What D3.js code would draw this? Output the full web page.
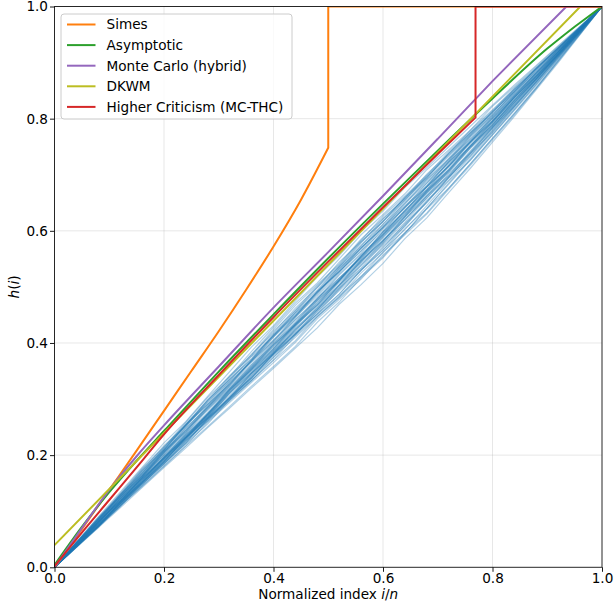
<!DOCTYPE html>
<html>
<head>
<meta charset="utf-8">
<script src="https://cdn.jsdelivr.net/npm/d3@7"></script>
<style>
  body { margin: 0; background: #fff; }
  svg { font-family: "DejaVu Sans", sans-serif; }
</style>
</head>
<body>
<div id="chart-area"></div>
<script>
// sample paths: h(i) vs i/n, read at these x positions
const sampleX = [0, 0.04, 0.08, 0.12, 0.16, 0.20, 0.24, 0.28, 0.32, 0.36, 0.40, 0.44, 0.48,
  0.52, 0.56, 0.60, 0.64, 0.68, 0.72, 0.76, 0.80, 0.84, 0.88, 0.92, 0.96, 1.00];

const samplePaths = [
  [0,.037,.074,.116,.151,.188,.230,.265,.302,.346,.380,.416,.459,.503,.538,.581,.625,.662,.707,.750,.788,.832,.875,.914,.957,1],
  [0,.044,.086,.130,.168,.213,.256,.292,.337,.380,.418,.462,.499,.544,.581,.617,.660,.696,.733,.775,.810,.852,.888,.925,.963,1],
  [0,.038,.082,.119,.155,.197,.232,.274,.318,.355,.391,.434,.469,.512,.556,.593,.637,.674,.718,.761,.797,.840,.882,.919,.961,1],
  [0,.042,.077,.113,.156,.191,.227,.269,.304,.339,.374,.417,.451,.487,.530,.565,.609,.652,.696,.734,.779,.823,.866,.910,.955,1],
  [0,.045,.083,.128,.172,.209,.254,.298,.335,.371,.414,.449,.492,.527,.564,.608,.645,.681,.724,.767,.803,.846,.882,.924,.961,1],
  [0,.036,.079,.123,.160,.205,.242,.287,.324,.369,.413,.450,.486,.530,.574,.611,.655,.692,.729,.772,.808,.845,.887,.923,.962,1],
  [0,.037,.072,.114,.149,.185,.221,.264,.298,.333,.369,.404,.447,.481,.518,.562,.596,.640,.685,.729,.774,.818,.863,.909,.954,1],
  [0,.043,.087,.125,.169,.206,.242,.285,.321,.357,.400,.436,.479,.523,.560,.604,.641,.678,.715,.758,.794,.837,.875,.918,.959,1],
  [0,.039,.076,.112,.155,.190,.233,.268,.311,.347,.390,.434,.471,.515,.552,.588,.631,.667,.710,.753,.790,.834,.873,.916,.958,1],
  [0,.044,.088,.132,.176,.214,.259,.303,.340,.385,.428,.471,.507,.550,.593,.629,.666,.709,.744,.780,.822,.857,.893,.929,.964,1],
  [0,.038,.081,.117,.160,.196,.239,.283,.326,.362,.405,.441,.477,.521,.558,.594,.637,.673,.716,.759,.796,.839,.877,.920,.959,1],
  [0,.035,.071,.113,.148,.184,.220,.256,.299,.334,.370,.413,.448,.484,.519,.554,.597,.632,.676,.720,.765,.810,.856,.904,.952,1],
  [0,.043,.080,.124,.161,.205,.249,.286,.330,.367,.403,.447,.491,.528,.564,.600,.643,.679,.722,.758,.801,.837,.880,.918,.960,1],
  [0,.039,.075,.117,.153,.196,.231,.267,.310,.346,.382,.425,.461,.504,.548,.584,.620,.663,.699,.743,.786,.825,.869,.913,.956,1],
  [0,.042,.085,.121,.164,.208,.245,.289,.333,.376,.412,.455,.499,.536,.573,.617,.654,.698,.735,.771,.813,.849,.890,.926,.963,1],
  [0,.037,.079,.114,.151,.194,.229,.272,.307,.343,.386,.421,.464,.508,.544,.589,.626,.671,.708,.752,.789,.833,.872,.915,.957,1],
  [0,.041,.078,.122,.166,.203,.240,.276,.319,.355,.398,.442,.479,.515,.551,.594,.630,.673,.709,.752,.795,.833,.876,.915,.958,1],
  [0,.044,.082,.126,.163,.208,.251,.295,.332,.368,.411,.447,.483,.526,.569,.605,.648,.691,.727,.770,.806,.849,.885,.923,.962,1],
  [0,.038,.074,.110,.152,.188,.231,.266,.302,.338,.381,.416,.452,.495,.539,.575,.611,.654,.690,.733,.777,.821,.865,.911,.955,1],
  [0,.043,.079,.122,.158,.201,.245,.282,.318,.361,.397,.433,.476,.512,.555,.598,.642,.679,.723,.760,.804,.841,.882,.920,.961,1],
  [0,.039,.082,.126,.163,.207,.244,.280,.323,.359,.402,.445,.489,.532,.568,.612,.649,.685,.728,.764,.801,.843,.880,.921,.960,1],
  [0,.036,.073,.109,.146,.189,.225,.261,.304,.340,.383,.419,.455,.498,.534,.577,.621,.658,.702,.739,.783,.827,.870,.913,.956,1],
  [0,.042,.086,.129,.173,.210,.254,.291,.327,.370,.414,.458,.502,.539,.583,.626,.662,.699,.741,.777,.814,.855,.891,.927,.963,1],
  [0,.038,.081,.118,.162,.199,.235,.271,.314,.358,.394,.437,.480,.516,.553,.597,.634,.678,.715,.751,.794,.837,.876,.918,.959,1],
  [0,.041,.084,.120,.157,.193,.235,.271,.314,.350,.386,.429,.473,.510,.547,.583,.626,.669,.705,.748,.791,.829,.872,.916,.958,1],
  [0,.037,.073,.116,.152,.187,.223,.266,.301,.337,.380,.416,.452,.487,.530,.566,.602,.645,.689,.726,.771,.816,.861,.907,.953,1],
  [0,.043,.081,.118,.161,.204,.248,.285,.329,.366,.410,.454,.491,.527,.570,.606,.642,.685,.721,.764,.800,.843,.881,.922,.960,1],
  [0,.039,.077,.121,.158,.194,.237,.273,.316,.352,.395,.431,.467,.511,.554,.598,.635,.679,.716,.760,.797,.840,.878,.919,.960,1],
  [0,.042,.079,.115,.158,.194,.230,.273,.317,.353,.389,.432,.468,.511,.555,.591,.634,.670,.714,.757,.794,.838,.876,.918,.959,1],
  [0,.045,.089,.127,.171,.215,.252,.296,.340,.377,.421,.458,.494,.537,.580,.616,.659,.695,.738,.774,.811,.853,.889,.926,.962,1],
  [0,.036,.071,.106,.142,.178,.213,.249,.284,.320,.355,.391,.427,.469,.504,.542,.586,.623,.668,.712,.758,.804,.852,.900,.950,1],
  [0,.038,.073,.110,.145,.181,.217,.259,.294,.330,.365,.401,.443,.478,.514,.557,.593,.630,.674,.717,.762,.807,.854,.903,.951,1],
  [0,.045,.090,.134,.178,.222,.260,.305,.349,.393,.431,.475,.518,.556,.599,.635,.677,.713,.750,.787,.824,.860,.895,.930,.965,1],
  [0,.037,.075,.111,.148,.184,.226,.261,.297,.333,.375,.410,.446,.482,.525,.561,.604,.640,.683,.727,.771,.815,.860,.906,.953,1],
  [0,.041,.077,.113,.150,.192,.227,.263,.299,.342,.378,.414,.457,.493,.529,.572,.608,.651,.695,.738,.776,.821,.865,.909,.955,1],
  [0,.038,.074,.116,.152,.189,.231,.267,.303,.346,.382,.424,.460,.496,.532,.569,.613,.650,.694,.737,.780,.824,.868,.912,.956,1],
  [0,.043,.086,.124,.168,.211,.255,.299,.342,.379,.424,.467,.504,.541,.585,.622,.658,.701,.737,.780,.816,.852,.889,.926,.963,1],
  [0,.039,.082,.118,.154,.197,.233,.269,.312,.348,.384,.427,.463,.499,.542,.578,.615,.659,.696,.740,.783,.822,.866,.911,.955,1],
  [0,.037,.073,.109,.144,.180,.216,.251,.287,.323,.358,.394,.437,.473,.516,.552,.595,.639,.676,.720,.765,.809,.855,.902,.951,1],
  [0,.042,.085,.129,.166,.210,.253,.290,.326,.369,.405,.448,.492,.535,.578,.621,.657,.694,.738,.775,.812,.848,.890,.926,.963,1],
  [0,.038,.075,.117,.159,.195,.232,.275,.311,.354,.397,.433,.476,.512,.549,.592,.628,.671,.707,.750,.787,.831,.870,.914,.957,1],
  [0,.041,.084,.127,.164,.200,.237,.273,.316,.352,.388,.431,.467,.503,.546,.582,.619,.662,.698,.741,.784,.828,.871,.915,.958,1],
  [0,.036,.072,.108,.150,.186,.222,.265,.301,.337,.380,.423,.459,.502,.545,.581,.624,.667,.704,.748,.785,.829,.872,.914,.957,1],
  [0,.043,.087,.130,.174,.217,.254,.298,.335,.372,.416,.453,.489,.533,.570,.607,.651,.688,.725,.769,.806,.848,.884,.922,.961,1]
];

// bound curves
const simesX = [0, 0.05, 0.1, 0.15, 0.2, 0.25, 0.3, 0.35, 0.4, 0.45, 0.5, 0.5, 1];
const simesY = [0, 0.068, 0.138, 0.208, 0.279, 0.350, 0.421, 0.495, 0.572, 0.655, 0.748, 1, 1];

const asymX = [0, 0.05, 0.1, 0.15, 0.2, 0.3, 0.4, 0.5, 0.6, 0.7, 0.8, 0.9, 0.95, 1];
const asymY = [0.004, 0.072, 0.134, 0.19, 0.243, 0.349, 0.451, 0.551, 0.648, 0.743, 0.836, 0.925, 0.964, 1];

const mcX = [0, 0.05, 0.1, 0.15, 0.2, 0.3, 0.4, 0.5, 0.6, 0.7, 0.8, 0.935, 1];
const mcY = [0, 0.07, 0.138, 0.198, 0.253, 0.358, 0.463, 0.562, 0.662, 0.764, 0.867, 1, 1];

const dkwmX = [0, 0.9605, 1];
const dkwmY = [0.0395, 1, 1];

const hcX = [0, 0.05, 0.1, 0.15, 0.2, 0.3, 0.4, 0.5, 0.6, 0.7, 0.769, 0.769, 1];
const hcY = [0.002, 0.062, 0.12, 0.178, 0.237, 0.343, 0.446, 0.545, 0.642, 0.737, 0.802, 1, 1];

const seriesNames = ['Simes', 'Asymptotic', 'Monte Carlo (hybrid)', 'DKWM', 'Higher Criticism (MC-THC)'];
const seriesColors = ['#ff7f0e', '#2ca02c', '#9467bd', '#bcbd22', '#d62728'];
const tickValues = [0, 0.2, 0.4, 0.6, 0.8, 1.0];

const drawChart = () => {
  const chartSize = { width: 615, height: 605 };
  const margin = { left: 54.5, right: 13, top: 6.5, bottom: 37.7 };
  const width = chartSize.width - margin.left - margin.right;
  const height = chartSize.height - margin.top - margin.bottom;

  const svg = d3.select('#chart-area').append('svg')
    .attr('width', chartSize.width)
    .attr('height', chartSize.height);

  const x = d3.scaleLinear().domain([0, 1]).range([0, width]);
  const y = d3.scaleLinear().domain([0, 1]).range([height, 0]);

  const g = svg.append('g')
    .attr('transform', `translate(${margin.left},${margin.top})`);

  g.append('clipPath').attr('id', 'plot-clip')
    .append('rect').attr('width', width).attr('height', height);

  // grid
  g.append('g').selectAll('line')
    .data(tickValues.slice(1, -1))
    .enter().append('line')
    .attr('x1', d => x(d)).attr('x2', d => x(d))
    .attr('y1', 0).attr('y2', height)
    .attr('stroke', '#b0b0b0').attr('stroke-opacity', 0.3).attr('stroke-width', 1);
  g.append('g').selectAll('line')
    .data(tickValues.slice(1, -1))
    .enter().append('line')
    .attr('y1', d => y(d)).attr('y2', d => y(d))
    .attr('x1', 0).attr('x2', width)
    .attr('stroke', '#b0b0b0').attr('stroke-opacity', 0.3).attr('stroke-width', 1);

  const plot = g.append('g').attr('clip-path', 'url(#plot-clip)');

  const line = d3.line().x(d => x(d[0])).y(d => y(d[1]));
  const smooth = d3.line().x(d => x(d[0])).y(d => y(d[1])).curve(d3.curveMonotoneX);

  plot.selectAll('path.sample')
    .data(samplePaths)
    .enter().append('path')
    .attr('class', 'sample')
    .attr('d', p => line(p.map((v, i) => [sampleX[i], v])))
    .attr('fill', 'none')
    .attr('stroke', '#1f77b4')
    .attr('stroke-opacity', 0.35)
    .attr('stroke-width', 1.2);

  // smooth up to the point where the bound hits 1, straight after that
  const boundPath = (xs, ys) => {
    const pts = xs.map((v, i) => [v, ys[i]]);
    let k = pts.findIndex(p => p[1] >= 1);
    if (k < 0) k = pts.length;
    const head = pts.slice(0, k);
    const tail = pts.slice(k);
    let d = head.length > 2 ? smooth(head) : line(head);
    tail.forEach(p => { d += `L${x(p[0])},${y(p[1])}`; });
    return d;
  };

  const curves = [
    [simesX, simesY], [asymX, asymY], [mcX, mcY], [dkwmX, dkwmY], [hcX, hcY]
  ];
  plot.selectAll('path.bound')
    .data(curves)
    .enter().append('path')
    .attr('class', 'bound')
    .attr('d', c => boundPath(c[0], c[1]))
    .attr('fill', 'none')
    .attr('stroke', (c, i) => seriesColors[i])
    .attr('stroke-width', 2)
    .attr('stroke-linejoin', 'round');

  // axes
  const xAxis = d3.axisBottom(x).tickValues(tickValues).tickFormat(d3.format('.1f'))
    .tickSize(4.5).tickPadding(2);
  const yAxis = d3.axisLeft(y).tickValues(tickValues).tickFormat(d3.format('.1f'))
    .tickSize(4.5).tickPadding(2);

  const xg = g.append('g')
    .attr('transform', `translate(0,${height})`)
    .call(xAxis);
  const yg = g.append('g').call(yAxis);
  [xg, yg].forEach(a => {
    a.select('.domain').remove();
    a.selectAll('text').attr('font-size', 13.6).attr('fill', '#000')
      .attr('font-family', '"DejaVu Sans", sans-serif');
    a.selectAll('line').attr('stroke', '#000').attr('stroke-width', 0.9);
  });

  // spines
  g.append('rect')
    .attr('width', width).attr('height', height)
    .attr('fill', 'none')
    .attr('stroke', '#000').attr('stroke-opacity', 0.85).attr('stroke-width', 1);

  g.append('text')
    .attr('x', width / 2)
    .attr('y', height + 31.5)
    .attr('text-anchor', 'middle')
    .attr('font-size', 13.6)
    .html('Normalized index <tspan font-style="italic">i</tspan>/<tspan font-style="italic">n</tspan>');

  g.append('text')
    .attr('transform', `translate(${19 - margin.left},${height / 2}) rotate(-90)`)
    .attr('text-anchor', 'middle')
    .attr('font-size', 13.6)
    .html('<tspan font-style="italic">h</tspan>(<tspan font-style="italic">i</tspan>)');

  // legend
  const legend = svg.append('g').attr('transform', 'translate(61,14)');
  legend.append('rect')
    .attr('width', 231).attr('height', 105).attr('rx', 3)
    .attr('fill', '#fff').attr('fill-opacity', 0.8)
    .attr('stroke', '#cccccc').attr('stroke-width', 1);
  const items = legend.selectAll('g.item')
    .data(seriesNames)
    .enter().append('g')
    .attr('transform', (d, i) => `translate(0,${10.5 + i * 20.6})`);
  items.append('line')
    .attr('x1', 6).attr('x2', 34.5)
    .attr('stroke', (d, i) => seriesColors[i])
    .attr('stroke-width', 2);
  items.append('text')
    .attr('x', 45.5).attr('y', 4.8)
    .attr('font-size', 13.6)
    .text(d => d);
};

window.onload = drawChart;
</script>
</body>
</html>
